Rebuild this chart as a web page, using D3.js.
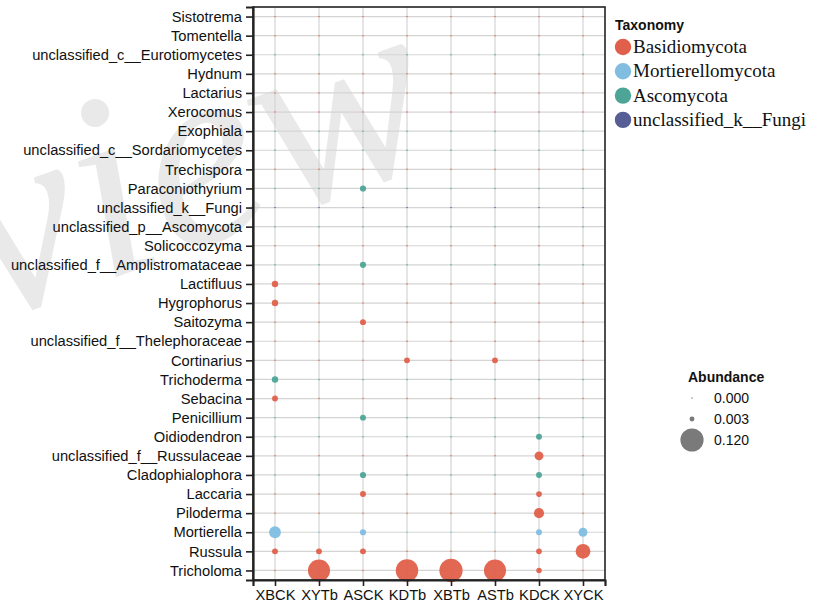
<!DOCTYPE html>
<html>
<head>
<meta charset="utf-8">
<script src="https://cdn.jsdelivr.net/npm/d3@7"></script>
<style>
  html, body { margin: 0; padding: 0; background: #fff; }
  svg { display: block; }
</style>
</head>
<body>
<svg id="chart" width="824" height="609"></svg>
<script>
// Samples along the x axis
const samples = ["XBCK", "XYTb", "ASCK", "KDTb", "XBTb", "ASTb", "KDCK", "XYCK"];

// Genera from top to bottom
const genera = [
  "Sistotrema", "Tomentella", "unclassified_c__Eurotiomycetes", "Hydnum", "Lactarius",
  "Xerocomus", "Exophiala", "unclassified_c__Sordariomycetes", "Trechispora", "Paraconiothyrium",
  "unclassified_k__Fungi", "unclassified_p__Ascomycota", "Solicoccozyma",
  "unclassified_f__Amplistromataceae", "Lactifluus", "Hygrophorus", "Saitozyma",
  "unclassified_f__Thelephoraceae", "Cortinarius", "Trichoderma", "Sebacina", "Penicillium",
  "Oidiodendron", "unclassified_f__Russulaceae", "Cladophialophora", "Laccaria", "Piloderma",
  "Mortierella", "Russula", "Tricholoma"
];

// Phylum of each genus (same order as genera)
const phylumOf = [
  "Basidiomycota", "Basidiomycota", "Ascomycota", "Basidiomycota", "Basidiomycota",
  "Basidiomycota", "Ascomycota", "Ascomycota", "Basidiomycota", "Ascomycota",
  "unclassified_k__Fungi", "Ascomycota", "Basidiomycota",
  "Ascomycota", "Basidiomycota", "Basidiomycota", "Basidiomycota",
  "Basidiomycota", "Basidiomycota", "Ascomycota", "Basidiomycota", "Ascomycota",
  "Ascomycota", "Basidiomycota", "Ascomycota", "Basidiomycota", "Basidiomycota",
  "Mortierellomycota", "Basidiomycota", "Basidiomycota"
];

// Relative abundance, one row per genus, columns follow samples
const abundance = [
  [0, 0, 0, 0, 0, 0, 0, 0],
  [0, 0, 0, 0, 0, 0, 0, 0],
  [0, 0, 0, 0, 0, 0, 0, 0],
  [0, 0, 0, 0, 0, 0, 0, 0],
  [0, 0, 0, 0, 0, 0, 0, 0],
  [0, 0, 0, 0, 0, 0, 0, 0],
  [0, 0, 0, 0, 0, 0, 0, 0],
  [0, 0, 0, 0, 0, 0, 0, 0],
  [0, 0, 0, 0, 0, 0, 0, 0],
  [0, 0, 0.0055, 0, 0, 0, 0, 0],
  [0, 0, 0, 0, 0, 0, 0, 0],
  [0, 0, 0, 0, 0, 0, 0, 0],
  [0, 0, 0, 0, 0, 0, 0, 0],
  [0, 0, 0.0055, 0, 0, 0, 0, 0],
  [0.006, 0, 0, 0, 0, 0, 0, 0],
  [0.006, 0, 0, 0, 0, 0, 0, 0],
  [0, 0, 0.005, 0, 0, 0, 0, 0],
  [0, 0, 0, 0, 0, 0, 0, 0],
  [0, 0, 0, 0.005, 0, 0.005, 0, 0],
  [0.006, 0, 0, 0, 0, 0, 0, 0],
  [0.005, 0, 0, 0, 0, 0, 0, 0],
  [0, 0, 0.005, 0, 0, 0, 0, 0],
  [0, 0, 0, 0, 0, 0, 0.005, 0],
  [0, 0, 0, 0, 0, 0, 0.014, 0],
  [0, 0, 0.0055, 0, 0, 0, 0.005, 0],
  [0, 0, 0.005, 0, 0, 0, 0.0045, 0],
  [0, 0, 0, 0, 0, 0, 0.019, 0],
  [0.027, 0, 0.0055, 0, 0, 0, 0.005, 0.014],
  [0.005, 0.005, 0.005, 0, 0, 0, 0.0045, 0.045],
  [0, 0.108, 0, 0.112, 0.120, 0.108, 0.004, 0]
];

const phyla = ["Basidiomycota", "Mortierellomycota", "Ascomycota", "unclassified_k__Fungi"];
const phylumColors = ["#e0604b", "#80bde0", "#4ca596", "#565e95"];
const sizeBreaks = [0.000, 0.003, 0.120];
const sizeBreakLabels = ["0.000", "0.003", "0.120"];

const svg = d3.select("#chart");
const plot = { left: 253, right: 605, top: 7, bottom: 580 };

// faint watermark across the upper left
svg.append("text")
  .attr("transform", "translate(-359,450) rotate(-20)")
  .attr("font-family", "Liberation Serif, serif")
  .attr("font-style", "italic")
  .attr("font-size", 265)
  .attr("fill", "#000")
  .attr("fill-opacity", 0.085)
  .text("Preview");

const x = d3.scalePoint().domain(samples).range([plot.left, plot.right]).padding(0.5);
const y = d3.scalePoint().domain(genera).range([plot.top, plot.bottom]).padding(0.5);
const r = d3.scaleSqrt().domain([0, 0.12]).range([0.75, 11.6]);
const color = d3.scaleOrdinal().domain(phyla).range(phylumColors);

// grid
const grid = svg.append("g");
grid.selectAll("line.h").data(genera).join("line")
  .attr("x1", plot.left).attr("x2", plot.right)
  .attr("y1", d => y(d)).attr("y2", d => y(d))
  .attr("stroke", "#d4d4d4").attr("stroke-width", 1.2);
grid.selectAll("line.v").data(samples).join("line")
  .attr("y1", plot.top).attr("y2", plot.bottom)
  .attr("x1", d => x(d)).attr("x2", d => x(d))
  .attr("stroke", "#d4d4d4").attr("stroke-width", 1.2);

// bubbles
const cells = [];
genera.forEach((g, i) => {
  samples.forEach((s, j) => {
    cells.push({ genus: g, sample: s, value: abundance[i][j], phylum: phylumOf[i] });
  });
});
svg.append("g").selectAll("circle").data(cells).join("circle")
  .attr("cx", d => x(d.sample))
  .attr("cy", d => y(d.genus))
  .attr("r", d => r(d.value))
  .attr("fill", d => color(d.phylum))
  .attr("fill-opacity", 0.95);

// panel border
svg.append("rect")
  .attr("x", plot.left).attr("y", plot.top)
  .attr("width", plot.right - plot.left).attr("height", plot.bottom - plot.top)
  .attr("fill", "none").attr("stroke", "#222").attr("stroke-width", 1.6);

// axes
const yAxis = svg.append("g")
  .attr("transform", `translate(${plot.left},0)`)
  .call(d3.axisLeft(y).tickSize(7).tickPadding(4));
const xAxis = svg.append("g")
  .attr("transform", `translate(0,${plot.bottom})`)
  .call(d3.axisBottom(x).tickSize(6).tickPadding(4));
[yAxis, xAxis].forEach(a => {
  a.select(".domain").attr("stroke", "#222").attr("stroke-width", 2.2);
  a.selectAll(".tick line").attr("stroke", "#222").attr("stroke-width", 1.6);
  a.selectAll(".tick text")
    .attr("fill", "#111")
    .attr("font-family", "Liberation Sans, Arial, sans-serif")
    .attr("font-size", 14.7);
});

// phylum legend
const leg = svg.append("g");
leg.append("text")
  .attr("x", 615).attr("y", 30)
  .attr("font-family", "Liberation Sans, Arial, sans-serif")
  .attr("font-weight", "bold").attr("font-size", 14).attr("fill", "#111")
  .text("Taxonomy");
const legItems = leg.selectAll("g.item").data(phyla).join("g")
  .attr("transform", (d, i) => `translate(623,${47 + i * 24.3})`);
legItems.append("circle").attr("r", 8.2).attr("fill", d => color(d));
legItems.append("text")
  .attr("x", 10).attr("y", 6)
  .attr("font-family", "Liberation Serif, Times New Roman, serif")
  .attr("font-size", 19).attr("fill", "#111")
  .text(d => d);

// abundance legend
const sl = svg.append("g");
sl.append("text")
  .attr("x", 688).attr("y", 382)
  .attr("font-family", "Liberation Sans, Arial, sans-serif")
  .attr("font-weight", "bold").attr("font-size", 14).attr("fill", "#111")
  .text("Abundance");
const slItems = sl.selectAll("g.item").data(sizeBreaks).join("g")
  .attr("transform", (d, i) => `translate(692,${398 + i * 21})`);
slItems.append("circle").attr("r", d => r(d)).attr("fill", "#7a7a7a");
slItems.append("text")
  .attr("x", 22).attr("y", 5)
  .attr("font-family", "Liberation Sans, Arial, sans-serif")
  .attr("font-size", 14).attr("fill", "#111")
  .text((d, i) => sizeBreakLabels[i]);
</script>
</body>
</html>
